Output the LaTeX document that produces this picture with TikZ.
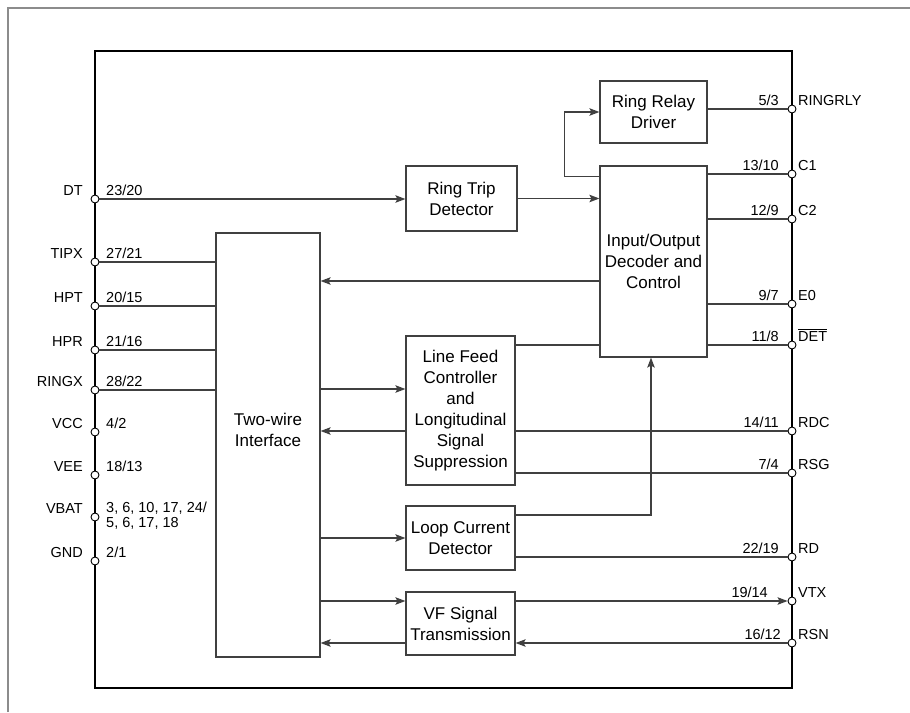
\documentclass[tikz,border=0pt]{standalone}
\usepackage{fontspec}
\setmainfont{Liberation Sans}
\usetikzlibrary{arrows.meta}

\begin{document}
\begin{tikzpicture}[x=1pt, y=-1pt,
    block/.style={draw=black!75, line width=1.2pt, fill=white, inner sep=0pt, align=center, font=\fontsize{17}{21}\selectfont},
    pin/.style={circle, draw=black, fill=white, line width=0.9pt, inner sep=0pt, minimum size=8pt},
    wire/.style={draw=black!75, line width=1.25pt},
    sig/.style={wire, -{Stealth[length=10pt, width=7.5pt, inset=2pt]}},
    lbl/.style={inner sep=0pt, font=\fontsize{14.5}{15}\selectfont}
]
    \useasboundingbox (0,0) rectangle (910,712);
    \draw[black!45, line width=1.5pt] (8,712) -- (8,8) -- (910,8);

    % package outline
    \node[draw, line width=2.4pt, minimum width=697pt, minimum height=637pt, inner sep=0pt] (chip) at (443.5,369.5) {};

    % function blocks
    \node[block, minimum width=104pt, minimum height=424pt] (twi) at (268,445) {\raisebox{9pt}[0pt][0pt]{\begin{tabular}{@{}c@{}}Two-wire\\Interface\end{tabular}}};
    \node[block, minimum width=111pt, minimum height=65pt] (rtd) at (461.5,198.5) {Ring Trip\\Detector};
    \node[block, minimum width=109pt, minimum height=149pt] (lfc) at (460.5,410.5) {Line Feed\\Controller\\and\\Longitudinal\\Signal\\Suppression};
    \node[block, minimum width=109pt, minimum height=64pt] (lcd) at (460.5,538) {Loop Current\\Detector};
    \node[block, minimum width=109pt, minimum height=63pt] (vfs) at (460.5,623.5) {VF Signal\\Transmission};
    \node[block, minimum width=107pt, minimum height=62pt] (rrd) at (653.5,112) {Ring Relay\\Driver};
    \node[block, minimum width=107pt, minimum height=191pt] (io) at (653.5,261.5) {Input/Output\\Decoder and\\Control};

    % left pins
    \foreach \n/\y/\t in {DT/199/{23/20}, TIPX/262/{27/21}, HPT/306/{20/15}, HPR/350/{21/16}, RINGX/390/{28/22}, VCC/432/{4/2}, VEE/475/{18/13}, VBAT/517/{}, GND/561/{2/1}} {
        \node[pin] (p\n) at (95,\y) {};
        \node[lbl, anchor=base east] (l\n) at (83,\y-4) {\n};
        \node[lbl, anchor=base west] (n\n) at (106,\y-4) {\t};
    }
    \node[lbl, anchor=north west, align=left] (nVBATx) at (106,502) {3, 6, 10, 17, 24/\\5, 6, 17, 18};

    % right pins
    \foreach \n/\y/\t/\s/\e in {RINGRLY/109/{5/3}/RINGRLY/779, C1/174/{13/10}/C1/779, C2/219/{12/9}/C2/779, E0/304/{9/7}/E0/779, DET/345/{11/8}/{$\overline{\mbox{DET}}$}/779, RDC/431/{14/11}/RDC/779, RSG/473/{7/4}/RSG/779, RD/557/{22/19}/RD/779, VTX/601/{19/14}/VTX/768, RSN/643/{16/12}/RSN/781} {
        \node[pin] (p\n) at (792,\y) {};
        \node[lbl, anchor=base west] (l\n) at (798,\y-4) {\s};
        \node[lbl, anchor=base east] (n\n) at (\e,\y-4) {\t};
    }

    % pin wires
    \draw[sig] (pDT) -- (pDT -| rtd.west);
    \foreach \n in {TIPX, HPT, HPR, RINGX}
        \draw[wire] (p\n) -- (p\n -| twi.west);
    \draw[wire] (pRINGRLY) -- (pRINGRLY -| rrd.east);
    \foreach \n in {C1, C2, E0, DET}
        \draw[wire] (p\n) -- (p\n -| io.east);
    \draw[wire] (pRDC) -- (pRDC -| lfc.east);
    \draw[wire] (pRSG) -- (pRSG -| lfc.east);
    \draw[wire] (pRD) -- (pRD -| lcd.east);
    \draw[sig] (pVTX -| vfs.east) -- (pVTX);
    \draw[sig] (pRSN) -- (pRSN -| vfs.east);

    % internal signals
    \draw[sig] (rtd.east) -- (rtd.east -| io.west);
    \draw[sig] ([yshift=-11pt]io.north west) -- ++(-35,0) |- (rrd.west);
    \draw[sig] (io.west |- 0,281) -- (twi.east |- 0,281);
    \draw[wire] (lfc.east |- 0,345) -- (io.west |- 0,345);
    \draw[sig] (twi.east |- 0,389) -- (lfc.west |- 0,389);
    \draw[sig] (lfc.west |- pRDC) -- (twi.east |- pRDC);
    \draw[sig] (lcd.east |- 0,515) -| ([xshift=-2.5pt]io.south);
    \draw[sig] (twi.east |- lcd.west) -- (lcd.west);
    \draw[sig] (twi.east |- pVTX) -- (vfs.west |- pVTX);
    \draw[sig] (vfs.west |- pRSN) -- (twi.east |- pRSN);
\end{tikzpicture}
\end{document}
